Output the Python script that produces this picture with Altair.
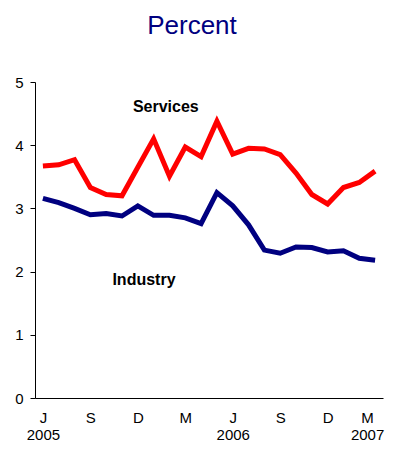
import altair as alt
import pandas as pd

months = ["Jun 2005", "Jul 2005", "Aug 2005", "Sep 2005", "Oct 2005", "Nov 2005",
          "Dec 2005", "Jan 2006", "Feb 2006", "Mar 2006", "Apr 2006", "May 2006",
          "Jun 2006", "Jul 2006", "Aug 2006", "Sep 2006", "Oct 2006", "Nov 2006",
          "Dec 2006", "Jan 2007", "Feb 2007", "Mar 2007"]
services = [3.67, 3.69, 3.77, 3.33, 3.22, 3.20, 3.65, 4.10, 3.51, 3.97, 3.82, 4.38,
            3.86, 3.95, 3.94, 3.85, 3.56, 3.22, 3.07, 3.33, 3.41, 3.59]
industry = [3.16, 3.09, 3.00, 2.90, 2.92, 2.88, 3.04, 2.89, 2.89, 2.85, 2.76, 3.25,
            3.04, 2.74, 2.34, 2.29, 2.39, 2.38, 2.31, 2.33, 2.21, 2.18]

tick_positions = [0, 3, 6, 9, 12, 15, 18, 21]
tick_letters = ["J", "S", "D", "M", "J", "S", "D", "M"]
tick_years = ["2005", "", "", "", "2006", "", "", "2007"]

series_names = ["Services", "Industry"]
series_colors = ["#FF0000", "#000080"]
label_names = ["Services", "Industry"]
label_x = [7.77, 6.39]
label_y = [4.53, 1.79]

rows = []
for name, vals in zip(series_names, [services, industry]):
    for i, (m, v) in enumerate(zip(months, vals)):
        rows.append({"idx": i, "month": m, "series": name, "value": v})
df = pd.DataFrame(rows)

labels_df = pd.DataFrame({"name": label_names, "x": label_x, "y": label_y})

# Build label expression from the tick lists
expr = "''"
for p, l, yv in reversed(list(zip(tick_positions, tick_letters, tick_years))):
    expr = f"datum.value == {p} ? ['{l}', '{yv}'] : ({expr})"

FONT = "Liberation Sans"

x_scale = alt.Scale(domain=[-0.5, 21.5], nice=False, zero=False)
y_scale = alt.Scale(domain=[0, 5], nice=False)

last_tick = tick_positions[-1]

lines = alt.Chart(df).mark_line(strokeWidth=5).encode(
    x=alt.X("idx:Q", scale=x_scale,
            axis=alt.Axis(values=tick_positions, labelExpr=expr, title=None,
                          grid=False, ticks=False, tickSize=0, labelPadding=12,
                          labelBaseline="top", labelLineHeight=17,
                          labelOffset={"condition": {"test": f"datum.value == {last_tick}",
                                                     "value": -8}, "value": 0},
                          labelFontSize=15, labelFont=FONT, labelColor="#000000",
                          domainColor="#000000", labelAngle=0)),
    y=alt.Y("value:Q", scale=y_scale,
            axis=alt.Axis(values=[0, 1, 2, 3, 4, 5], format="d", title=None, grid=False,
                          tickSize=5, tickColor="#000000", labelPadding=7,
                          labelFontSize=15, labelFont=FONT, labelColor="#000000",
                          domainColor="#000000")),
    color=alt.Color("series:N", scale=alt.Scale(domain=series_names, range=series_colors),
                    legend=None),
    detail="series:N",
)

texts = alt.Chart(labels_df).mark_text(
    font=FONT, fontSize=16, fontWeight="bold", color="#000000",
    align="center", baseline="alphabetic"
).encode(
    x=alt.X("x:Q", scale=x_scale),
    y=alt.Y("y:Q", scale=y_scale),
    text="name:N",
)

chart = alt.layer(lines, texts).properties(
    width=348, height=316,
    title=alt.TitleParams("Percent", font=FONT, fontSize=26, fontWeight="normal",
                          color="#000080", anchor="middle", offset=36, dx=-17),
    autosize=alt.AutoSizeParams(type="none"),
    padding={"left": 27, "top": 74, "right": 2, "bottom": 45},
).configure_view(stroke=None)

chart.save("out.html", embed_options={"renderer": "svg", "actions": False})
